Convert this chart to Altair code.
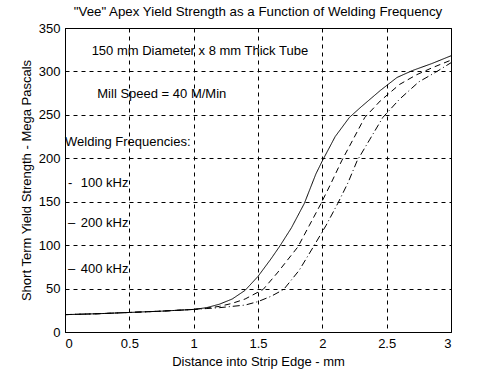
import altair as alt
import pandas as pd

# 100 kHz (solid)
x100 = [0, 0.25, 0.5, 0.75, 1.0, 1.1, 1.2, 1.3, 1.4, 1.5, 1.6, 1.67, 1.76, 1.86, 1.95, 2.0, 2.1, 2.21, 2.3, 2.45, 2.58, 2.7, 2.85, 3.0]
y100 = [20, 21, 22.5, 24, 26, 28, 32, 38, 48, 64, 84, 99, 120, 148, 182, 197, 225, 247, 259, 278, 293, 301, 309, 318]
# 200 kHz (dashed)
x200 = [0, 0.25, 0.5, 0.75, 1.0, 1.1, 1.2, 1.3, 1.4, 1.54, 1.65, 1.81, 1.9, 1.99, 2.07, 2.15, 2.33, 2.45, 2.6, 2.73, 2.85, 3.0]
y200 = [20, 21, 22.5, 24, 26, 27.5, 29.5, 33, 38, 49, 68, 98, 123, 148, 172, 197, 247, 266, 285, 296, 304, 313]
# 400 kHz (dash-dot)
x400 = [0, 0.25, 0.5, 0.75, 1.0, 1.1, 1.2, 1.3, 1.4, 1.5, 1.6, 1.7, 1.82, 1.93, 2.03, 2.12, 2.2, 2.27, 2.37, 2.47, 2.6, 2.75, 2.88, 3.0]
y400 = [20, 21, 22.5, 24, 26, 27, 28, 29.5, 31, 35, 41, 49, 71, 98, 123, 148, 172, 197, 222, 247, 268, 288, 299, 310]

series_names = ["100 kHz", "200 kHz", "400 kHz"]

rows = []
for name, xs, ys in zip(series_names, [x100, x200, x400], [y100, y200, y400]):
    for i, (a, b) in enumerate(zip(xs, ys)):
        rows.append({"series": name, "x": a, "y": b, "order": i})
df = pd.DataFrame(rows)

# annotation texts
ann_text = ["150 mm Diameter x 8 mm Thick Tube", "Mill Speed = 40 M/Min", "Welding Frequencies:",
            "100 kHz", "200 kHz", "400 kHz", "-", "\u2013", "\u2013"]
ann_x = [0.207, 0.251, 0.0, 0.122, 0.122, 0.122, 0.023, 0.023, 0.023]
ann_y = [323.5, 274, 219, 172, 126, 73, 172, 126, 73]
ann = pd.DataFrame({"text": ann_text, "x": ann_x, "y": ann_y})

x_ticks = [0, 0.5, 1, 1.5, 2, 2.5, 3]
y_ticks = [0, 50, 100, 150, 200, 250, 300, 350]

xscale = alt.Scale(domain=[0, 3], nice=False, zero=False)
yscale = alt.Scale(domain=[0, 350], nice=False)

FS = 13

xaxis = alt.Axis(values=x_ticks, format="~g", title="Distance into Strip Edge - mm",
                 grid=True, gridDash=[4, 4], gridColor="black", gridOpacity=1,
                 domainColor="black", tickColor="black", tickSize=0,
                 labelPadding=5, titlePadding=5, labelFontSize=FS, titleFontSize=FS,
                 titleFontWeight="normal", labelColor="black", titleColor="black")
yaxis = alt.Axis(values=y_ticks, title="Short Term Yield Strength - Mega Pascals",
                 grid=True, gridDash=[4, 4], gridColor="black", gridOpacity=1,
                 domainColor="black", tickColor="black", tickSize=0,
                 labelPadding=5, titlePadding=5, labelFontSize=FS, titleFontSize=FS,
                 titleFontWeight="normal", labelColor="black", titleColor="black")

lines = alt.Chart(df).mark_line(color="black", strokeWidth=1).encode(
    x=alt.X("x:Q", scale=xscale, axis=xaxis),
    y=alt.Y("y:Q", scale=yscale, axis=yaxis),
    strokeDash=alt.StrokeDash("series:N",
                              scale=alt.Scale(domain=series_names, range=[[1, 0], [6, 4], [7, 3, 1, 3]]),
                              legend=None),
    order="order:Q",
)

texts = alt.Chart(ann).mark_text(align="left", baseline="middle", fontSize=FS, color="black",
                                 font="Liberation Sans").encode(
    x=alt.X("x:Q", scale=xscale),
    y=alt.Y("y:Q", scale=yscale),
    text="text:N",
)

chart = alt.layer(lines, texts).properties(
    width=386, height=304,
    autosize=alt.AutoSizeParams(type="none"),
    padding={"left": 65, "top": 28, "right": 49, "bottom": 43},
    title=alt.TitleParams(text="\"Vee\" Apex Yield Strength as a Function of Welding Frequency",
                          anchor="middle", fontSize=13.3, fontWeight="normal", color="black",
                          font="Liberation Sans", offset=4),
    background="white",
).configure_view(stroke="black", strokeWidth=1).configure_axis(
    labelFont="Liberation Sans", titleFont="Liberation Sans"
)

chart.save("out.html", embed_options={"renderer": "svg", "actions": False})
